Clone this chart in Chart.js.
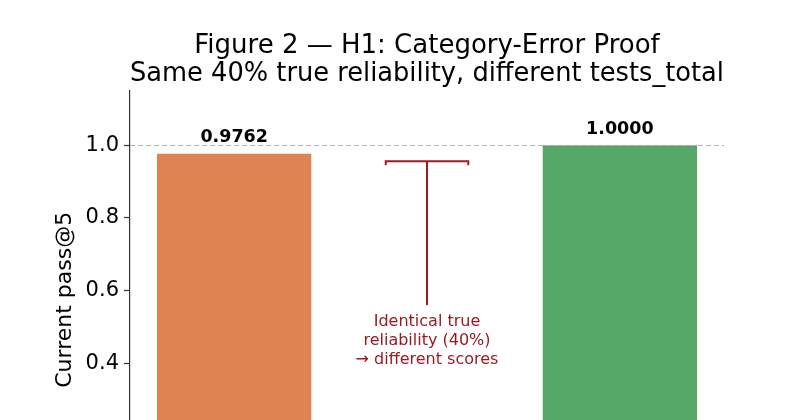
<!DOCTYPE html>
<html>
<head>
<meta charset="utf-8">
<script src="https://cdn.jsdelivr.net/npm/chart.js@4.4.1/dist/chart.umd.min.js"></script>
<style>
  html, body { margin: 0; padding: 0; background: #ffffff; overflow: hidden; }
  #wrap { position: absolute; left: 0; top: 0; width: 800px; height: 560px; }
</style>
</head>
<body>
<div id="wrap"><canvas id="c" width="800" height="560"></canvas></div>
<script>
// ---- data ----
const categories = ['Task A', 'Task B'];
const barPositions = [0, 1];
const passAt5 = [0.9762, 1.0000];
const barLabels = ['0.9762', '1.0000'];
const barColors = ['#DD8452', '#55A868'];
const yTicks = [0.0, 0.2, 0.4, 0.6, 0.8, 1.0];
const referenceLine = 1.0;
const titleLines = ['Figure 2 \u2014 H1: Category-Error Proof', 'Same 40% true reliability, different tests_total'];
const yLabel = 'Current pass@5';
const noteLines = ['Identical true', 'reliability (40%)', '\u2192 different scores'];
const notePoint = [0.5, 0.956];   // bracket (x, y) in data units
const noteHalfWidth = 0.107;      // bracket half width in x data units
const noteTextY = 0.466;          // centre of the note text, data units

const FONT = "'DejaVu Sans', sans-serif";
const NOTE_COLOR = '#9A1A22';

const overlay = {
  id: 'overlay',
  afterDatasetsDraw(chart) {
    const ctx = chart.ctx;
    const xs = chart.scales.x, ys = chart.scales.y;
    const area = chart.chartArea;
    ctx.save();
    // dashed reference line
    ctx.strokeStyle = '#b4b4b4';
    ctx.lineWidth = 1;
    ctx.setLineDash([5, 3]);
    const yr = Math.round(ys.getPixelForValue(referenceLine)) + 0.5;
    ctx.beginPath(); ctx.moveTo(area.left, yr); ctx.lineTo(area.right, yr); ctx.stroke();
    ctx.setLineDash([]);
    // value labels
    ctx.fillStyle = '#000';
    ctx.font = 'bold 17.5px ' + FONT;
    ctx.textAlign = 'center';
    ctx.textBaseline = 'middle';
    passAt5.forEach((v, i) => {
      ctx.fillText(barLabels[i], xs.getPixelForValue(barPositions[i]), ys.getPixelForValue(v) - 16);
    });
    // bracket annotation
    const cx = xs.getPixelForValue(notePoint[0]);
    const by = ys.getPixelForValue(notePoint[1]);
    const x1 = xs.getPixelForValue(notePoint[0] - noteHalfWidth);
    const x2 = xs.getPixelForValue(notePoint[0] + noteHalfWidth);
    const lineH = 19;
    const ty = ys.getPixelForValue(noteTextY);
    const textTop = ty - lineH * noteLines.length / 2;
    ctx.strokeStyle = NOTE_COLOR;
    ctx.lineWidth = 2;
    ctx.beginPath();
    ctx.moveTo(x1, by + 4); ctx.lineTo(x1, by); ctx.lineTo(x2, by); ctx.lineTo(x2, by + 4);
    ctx.moveTo(cx, by); ctx.lineTo(cx, textTop - 6);
    ctx.stroke();
    ctx.fillStyle = NOTE_COLOR;
    ctx.font = '16px ' + FONT;
    noteLines.forEach((t, i) => {
      ctx.fillText(t, cx, textTop + lineH * (i + 0.5) + 1);
    });
    ctx.restore();
  }
};

new Chart(document.getElementById('c'), {
  type: 'bar',
  data: {
    datasets: [{
      data: barPositions.map((x, i) => ({ x: x, y: passAt5[i] })),
      backgroundColor: barColors,
      borderWidth: 0,
      barPercentage: 0.4,
      categoryPercentage: 1.0
    }]
  },
  options: {
    responsive: false,
    devicePixelRatio: 1,
    animation: false,
    layout: { padding: { left: 0, right: 76, top: 0, bottom: 0 } },
    plugins: {
      legend: { display: false },
      tooltip: { enabled: false },
      title: {
        display: true,
        fullSize: false,
        text: titleLines,
        color: '#000',
        font: { family: FONT, size: 26, weight: 'normal', lineHeight: 1.05 },
        padding: { top: 33, bottom: 3 }
      }
    },
    scales: {
      x: {
        type: 'linear',
        offset: false,
        min: -0.27,
        max: 1.27,
        afterBuildTicks: (s) => { s.ticks = barPositions.map(v => ({ value: v })); },
        afterFit: (s) => { s.height = 51; },
        ticks: {
          color: '#000',
          font: { family: FONT, size: 20 },
          callback: (v) => categories[barPositions.indexOf(v)] || ''
        },
        grid: { display: false },
        border: { display: true, color: '#333', width: 1.2 }
      },
      y: {
        min: 0,
        max: 1.15,
        afterBuildTicks: (s) => { s.ticks = yTicks.map(v => ({ value: v })); },
        afterFit: (s) => { s.width = 130; },
        ticks: {
          color: '#000',
          padding: 5,
          font: { family: FONT, size: 21 },
          callback: (v) => Number(v).toFixed(1)
        },
        grid: { drawOnChartArea: false, drawTicks: true, tickLength: 6, color: '#333', tickWidth: 1.2 },
        border: { display: true, color: '#333', width: 1.2 },
        title: {
          display: true,
          text: yLabel,
          color: '#000',
          font: { family: FONT, size: 22 },
          padding: { top: 52, bottom: 0 }
        }
      }
    }
  },
  plugins: [overlay]
});
</script>
</body>
</html>
